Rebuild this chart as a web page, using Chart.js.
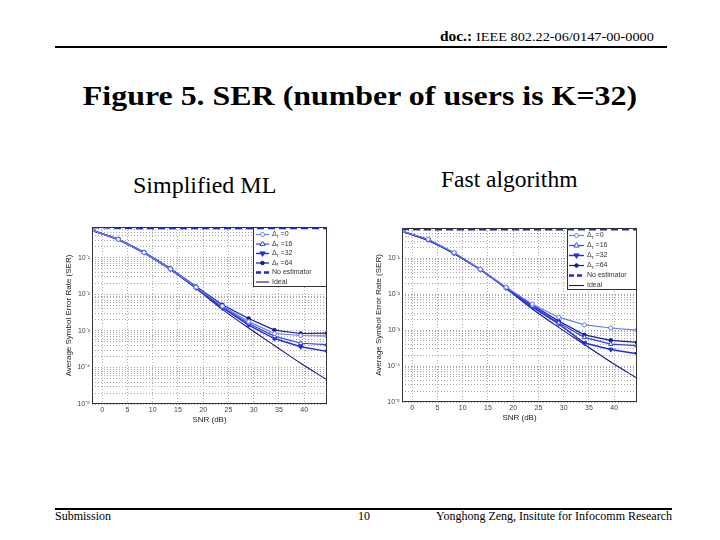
<!DOCTYPE html>
<html>
<head>
<meta charset="utf-8">
<script src="https://cdn.jsdelivr.net/npm/chart.js@4.4.0/dist/chart.umd.min.js"></script>
<style>
  body { margin: 0; width: 720px; height: 540px; background: #fff; position: relative; overflow: hidden; font-family: "Liberation Serif", serif; color: #000; }
  .abs { position: absolute; white-space: nowrap; line-height: 1.15; }
  .rule { position: absolute; height: 2px; background: #000; }
  canvas { position: absolute; }
</style>
</head>
<body>
<div class="abs" style="left:440px; top:29px; font-size:14px; transform:scaleX(1.1); transform-origin:left center;"><b>doc.:</b> <span style="font-size:13px">IEEE 802.22-06/0147-00-0000</span></div>
<div class="rule" style="left:55px; top:46px; width:612px;"></div>
<div class="abs" style="left:0; width:720px; text-align:center; top:80px; font-size:28px; font-weight:bold; transform:scaleX(1.14); transform-origin:360px center;">Figure 5. SER (number of users is K=32)</div>
<div class="abs" style="left:133px; top:172px; font-size:24px;">Simplified ML</div>
<div class="abs" style="left:441px; top:166px; font-size:23.5px;">Fast algorithm</div>

<canvas id="mlChart" width="290" height="225" style="left:50px; top:205px;"></canvas>
<canvas id="fastChart" width="290" height="222" style="left:360px; top:206px;"></canvas>

<div class="rule" style="left:55px; top:508px; width:617px;"></div>
<div class="abs" style="left:55px; top:510px; font-size:12px;">Submission</div>
<div class="abs" style="left:358px; top:510px; font-size:12px;">10</div>
<div class="abs" style="right:48px; top:510px; font-size:12px;">Yonghong Zeng, Insitute for Infocomm Research</div>

<script>
// SNR points (dB) of the simulated curves
const snr = [-2, 3.2, 8.3, 13.5, 18.6, 23.8, 29, 34.1, 39.3, 44.5];

// Simplified ML
const mlDelta0  = [0.57, 0.32, 0.14, 0.050, 0.0158, 0.0048, 0.0018, 0.00085, 0.00075, 0.00073];
const mlDelta16 = [0.57, 0.32, 0.14, 0.050, 0.0155, 0.0045, 0.0016, 0.00072, 0.00046, 0.00042];
const mlDelta32 = [0.57, 0.32, 0.14, 0.049, 0.0152, 0.0043, 0.00145, 0.00062, 0.00037, 0.000275];
const mlDelta64 = [0.58, 0.33, 0.145, 0.052, 0.0165, 0.0052, 0.0022, 0.00105, 0.00085, 0.00087];
const mlNoEst   = [0.70, 0.67, 0.66, 0.66, 0.66, 0.66, 0.66, 0.66, 0.66, 0.66];

// Fast algorithm
const fastDelta0  = [0.57, 0.34, 0.145, 0.050, 0.0158, 0.0053, 0.0023, 0.0014, 0.00115, 0.0010];
const fastDelta16 = [0.57, 0.33, 0.14, 0.049, 0.0152, 0.0047, 0.0016, 0.00063, 0.00041, 0.00037];
const fastDelta32 = [0.57, 0.33, 0.14, 0.049, 0.0150, 0.0044, 0.0015, 0.00044, 0.00029, 0.00022];
const fastDelta64 = [0.57, 0.33, 0.14, 0.050, 0.0155, 0.0050, 0.0018, 0.00074, 0.00052, 0.00046];
const fastNoEst   = [0.66, 0.65, 0.65, 0.65, 0.65, 0.65, 0.65, 0.65, 0.65, 0.65];

// ideal channel knowledge (same in both plots)
const ideal = [0.56, 0.31, 0.135, 0.048, 0.0145, 0.0039, 0.0012, 0.00040, 0.00013, 0.000046];

const legendLabels = ['Δτ =0', 'Δτ =16', 'Δτ =32', 'Δτ =64', 'No estimator', 'Ideal'];
const xTickValues = [0, 5, 10, 15, 20, 25, 30, 35, 40];
const yDecades = [-5, -4, -3, -2, -1];
const yMin = 1e-5, yMax = 0.7;

const yGridValues = [];
yDecades.forEach(e => {
  for (let m = 1; m < 10; m++) {
    const v = m * Math.pow(10, e);
    if (v <= yMax) yGridValues.push(v);
  }
});

const styles = [
  { color: '#6a7cf4', pointStyle: 'circle',   radius: 2,   rot: 0,   fill: '#ffffff', width: 1.2 },
  { color: '#3444e4', pointStyle: 'triangle', radius: 2.6, rot: 0,   fill: '#ffffff', width: 1.2 },
  { color: '#1f2fe0', pointStyle: 'triangle', radius: 2.6, rot: 180, fill: '#1f2fe0', width: 1.4 },
  { color: '#141c98', pointStyle: 'circle',   radius: 1.8, rot: 0,   fill: '#141c98', width: 1.2 },
  { color: '#1c28d0', pointStyle: false,      radius: 0,   rot: 0,   fill: '#1c28d0', width: 2.6, dash: [7, 4] },
  { color: '#16168a', pointStyle: false,      radius: 0,   rot: 0,   fill: '#16168a', width: 1.1 }
];

const supMap = { '-': '⁻', '0': '⁰', '1': '¹', '2': '²', '3': '³', '4': '⁴', '5': '⁵', '6': '⁶', '7': '⁷', '8': '⁸', '9': '⁹' };
function decadeLabel(v) {
  const e = Math.log10(v);
  if (Math.abs(e - Math.round(e)) > 1e-6) return '';
  return '10' + String(Math.round(e)).split('').map(c => supMap[c]).join('');
}

function drawMarker(ctx, ds, x, y) {
  const r = ds.pointRadius;
  ctx.beginPath();
  if (ds.pointStyle === 'circle') {
    ctx.arc(x, y, r, 0, Math.PI * 2);
  } else {
    const s = ds.pointRotation === 180 ? -1 : 1;
    ctx.moveTo(x, y - s * r * 1.1);
    ctx.lineTo(x + r, y + s * r * 0.6);
    ctx.lineTo(x - r, y + s * r * 0.6);
    ctx.closePath();
  }
  ctx.fillStyle = ds.pointBackgroundColor;
  ctx.fill();
  ctx.lineWidth = 1;
  ctx.strokeStyle = ds.borderColor;
  ctx.stroke();
}

function drawLabel(ctx, text, x, y) {
  ctx.fillStyle = '#333';
  ctx.textBaseline = 'middle';
  ctx.textAlign = 'left';
  const big = '7px "Liberation Sans", Arial, sans-serif';
  const small = '5px "Liberation Sans", Arial, sans-serif';
  if (text.startsWith('Δτ')) {
    ctx.font = big;
    ctx.fillText('Δ', x, y);
    let w = ctx.measureText('Δ').width;
    ctx.font = small;
    ctx.fillText('τ', x + w, y + 2);
    w += ctx.measureText('τ').width;
    ctx.font = big;
    ctx.fillText(text.slice(2), x + w, y);
  } else {
    ctx.font = big;
    ctx.fillText(text, x, y);
  }
}

// legend box in the top right corner of the plot, matlab style
const boxLegend = {
  id: 'boxLegend',
  beforeDatasetsDraw(chart, args, opts) {
    const ctx = chart.ctx, a = chart.chartArea;
    const x0 = a.right - opts.w, y0 = a.top;
    ctx.save();
    ctx.fillStyle = '#fff';
    ctx.fillRect(x0, y0, opts.w, opts.h);
    ctx.strokeStyle = '#333';
    ctx.lineWidth = 1;
    ctx.strokeRect(x0 + 0.5, y0 + 0.5, opts.w - 1, opts.h - 1);
    chart.data.datasets.forEach((ds, i) => {
      const y = y0 + opts.first + i * opts.step;
      ctx.strokeStyle = ds.borderColor;
      ctx.lineWidth = ds.borderWidth;
      // shorter dashes so the small sample shows two of them
      ctx.setLineDash(ds.borderDash && ds.borderDash.length ? [5, 3] : []);
      ctx.beginPath();
      ctx.moveTo(x0 + opts.lineFrom, y);
      ctx.lineTo(x0 + opts.lineTo, y);
      ctx.stroke();
      ctx.setLineDash([]);
      if (ds.pointRadius > 0) drawMarker(ctx, ds, x0 + (opts.lineFrom + opts.lineTo) / 2, y);
      drawLabel(ctx, ds.label, x0 + opts.textX, y);
    });
    ctx.restore();
  }
};

const plotFrame = {
  id: 'plotFrame',
  afterDraw(chart) {
    const ctx = chart.ctx, a = chart.chartArea;
    ctx.save();
    ctx.strokeStyle = '#333';
    ctx.lineWidth = 1;
    ctx.strokeRect(Math.round(a.left) + 0.5, Math.round(a.top) + 0.5, Math.round(a.right - a.left) - 1, Math.round(a.bottom - a.top) - 1);
    ctx.restore();
  }
};

function makeDatasets(seriesList) {
  return seriesList.map((vals, i) => {
    const st = styles[i];
    return {
      label: legendLabels[i],
      data: snr.map((x, j) => ({ x: x, y: vals[j] })),
      borderColor: st.color,
      backgroundColor: st.fill,
      borderWidth: st.width,
      borderDash: st.dash || [],
      pointStyle: st.pointStyle,
      pointRadius: st.radius,
      pointRotation: st.rot,
      pointBackgroundColor: st.fill,
      pointBorderColor: st.color,
      pointBorderWidth: 1,
      tension: i === 5 ? 0.3 : 0,
      fill: false
    };
  });
}

const tickFont = { size: 7, family: '"Liberation Sans", Arial, sans-serif' };
const titleFont = { size: 8, family: '"Liberation Sans", Arial, sans-serif' };

function makeChart(id, seriesList, legendOpts) {
  const gridOpts = { color: '#949494', lineWidth: 0.8, drawTicks: false };
  new Chart(document.getElementById(id), {
    type: 'line',
    data: { datasets: makeDatasets(seriesList) },
    options: {
      responsive: false,
      animation: false,
      devicePixelRatio: 1,
      layout: { padding: { left: 12, top: 22, right: 13, bottom: 4 } },
      plugins: {
        legend: { display: false },
        tooltip: { enabled: false },
        boxLegend: legendOpts
      },
      scales: {
        x: {
          type: 'linear',
          min: -2,
          max: 44.5,
          afterBuildTicks: s => { s.ticks = xTickValues.map(v => ({ value: v })); },
          afterFit: s => { s.height = 22; },
          ticks: { autoSkip: false, maxRotation: 0, padding: 2, color: '#444', font: tickFont },
          grid: gridOpts,
          border: { display: false, dash: [1, 2] },
          title: { display: true, text: 'SNR (dB)', color: '#222', font: titleFont, padding: { top: 0, bottom: 1 } }
        },
        y: {
          type: 'logarithmic',
          min: yMin,
          max: yMax,
          afterBuildTicks: s => { s.ticks = yGridValues.map(v => ({ value: v })); },
          afterFit: s => { s.width = 30; },
          ticks: { autoSkip: false, padding: 2, color: '#444', font: tickFont, callback: v => decadeLabel(v) },
          grid: gridOpts,
          border: { display: false, dash: [1, 2] },
          title: { display: true, text: 'Average Symbol Error Rate (SER)', color: '#222', font: titleFont, padding: { top: 2, bottom: 2 } }
        }
      }
    },
    plugins: [boxLegend, plotFrame]
  });
}

makeChart('mlChart',
  [mlDelta0, mlDelta16, mlDelta32, mlDelta64, mlNoEst, ideal],
  { w: 74, h: 60, first: 7.5, step: 9.5, lineFrom: 3, lineTo: 16, textX: 19 });

makeChart('fastChart',
  [fastDelta0, fastDelta16, fastDelta32, fastDelta64, fastNoEst, ideal],
  { w: 70, h: 62, first: 7.5, step: 10, lineFrom: 2, lineTo: 17, textX: 20 });
</script>
</body>
</html>
